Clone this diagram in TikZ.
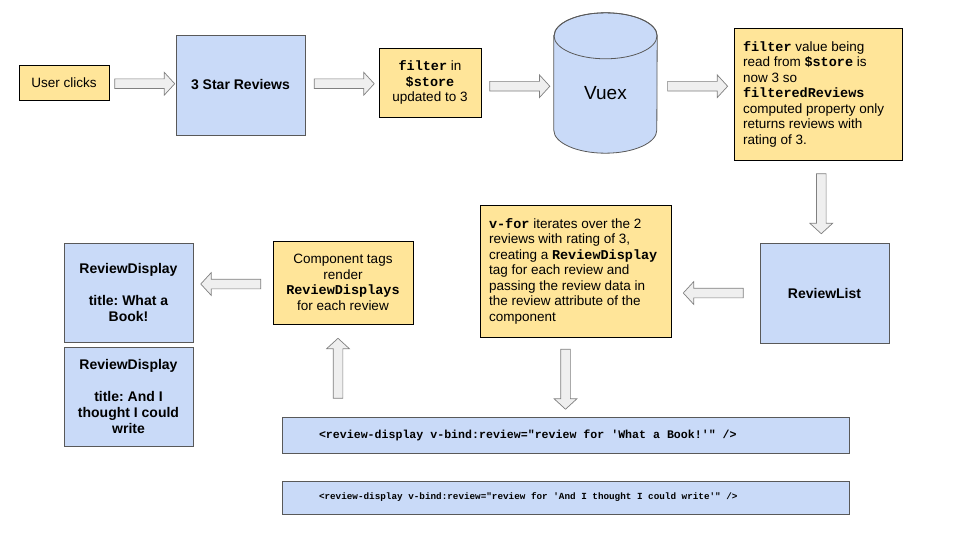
\documentclass[tikz,border=0pt]{standalone}
\usepackage{fontspec}
\setmainfont{Liberation Sans}
\setmonofont{Liberation Mono}
\usetikzlibrary{shapes.arrows}
\definecolor{noteyellow}{HTML}{FFE599}
\definecolor{compblue}{HTML}{C9DAF8}
\definecolor{arrowfill}{HTML}{EFEFEF}
\definecolor{edgegrey}{HTML}{595959}
\definecolor{arrowedge}{HTML}{808080}
\newcommand{\cd}[1]{\textbf{\texttt{#1}}}
\newcommand{\txt}{\fontsize{13.5}{15.5}\selectfont}
\frenchspacing

\tikzset{
	note/.style={draw=black, fill=noteyellow, line width=0.8pt, font=\txt, inner sep=0pt, align=flush center},
	comp/.style={draw=edgegrey, fill=compblue, line width=0.8pt, font=\fontsize{14}{16}\selectfont\bfseries, inner sep=0pt, align=flush center},
	codebox/.style={comp, align=flush left, text width=493pt, inner xsep=37pt},
	blockarrow/.style={single arrow, draw=arrowedge, fill=arrowfill, line width=0.7pt, inner xsep=0pt, inner ysep=4.5pt, minimum height=60pt, single arrow head extend=6.5pt, single arrow tip angle=95}
}

\begin{document}
\begin{tikzpicture}[x=1pt,y=-1pt]
			\useasboundingbox[fill=white] (0,0) rectangle (960,540);
			% top row
			\node[note, minimum width=90pt, minimum height=35pt] (click) at (64,82.5) {User clicks};
			\node[comp, minimum width=129pt, minimum height=100pt] (stars) at (240.5,85) {3 Star Reviews};
			\node[note, minimum width=102pt, minimum height=69pt] (filt) at (430,82.5) {\cd{filter} in\\ \cd{\$store}\\ updated to 3};
			\node[minimum width=103pt, minimum height=140pt, inner sep=0pt] (vuex) at (605.5,83) {};
			\draw[fill=compblue, draw=edgegrey, line width=0.8pt]
				([yshift=-23pt]vuex.north west) -- ([yshift=23pt]vuex.south west)
				arc[start angle=180, end angle=360, x radius=51.5pt, y radius=23pt]
				-- ([yshift=-23pt]vuex.north east)
				arc[start angle=0, end angle=180, x radius=51.5pt, y radius=23pt] -- cycle;
			\draw[draw=edgegrey, line width=0.8pt] ([yshift=-23pt]vuex.north) ellipse[x radius=51.5pt, y radius=23pt];
			\node[font=\fontsize{19}{22}\selectfont] (vuexlabel) at (605.5,93) {Vuex};
			\node[note, align=flush left, text width=150pt, inner xsep=9pt, minimum height=132pt] (fval) at (818,94)
				{\cd{filter} value being\\ read from \cd{\$store} is\\ now 3 so\\ \cd{filteredReviews}\\ computed property only\\ returns reviews with\\ rating of 3.};
			% middle row
			\node[comp, minimum width=129pt, minimum height=100pt] (rlist) at (824.5,293) {ReviewList};
			\node[note, align=flush left, text width=173pt, inner xsep=9pt, minimum height=132pt] (vfor) at (575.5,271)
				{\cd{v-for} iterates over the 2\\ reviews with rating of 3,\\ creating a \cd{ReviewDisplay}\\ tag for each review and\\ passing the review data in\\ the review attribute of the\\ component};
			\node[note, minimum width=140pt, minimum height=83pt] (tags) at (343,282.5)
				{Component tags\\ render\\ \cd{ReviewDisplays}\\ for each review};
			\node[comp, minimum width=129pt, minimum height=99pt] (disp1) at (128.5,292.5)
				{ReviewDisplay\\[15.5pt] title: What a\\ Book!};
			\node[comp, minimum width=129pt, minimum height=99pt] (disp2) at (128.5,396.5)
				{ReviewDisplay\\[15.5pt] title: And I\\ thought I could\\ write};
			% code rows
			\node[codebox, minimum height=36pt, font=\fontsize{11.6}{14}\selectfont] (code1) at (565.5,435)
				{\cd{<review-display v-bind:review="review for 'What a Book!'" />}};
			\node[codebox, minimum height=33pt, font=\fontsize{9.3}{11}\selectfont] (code2) at (565.5,497.5)
				{\cd{<review-display v-bind:review="review for 'And I thought I could write'" />}};
			% block arrows
			\path
			(click.east) -- node[blockarrow] {} (stars.west)
			(stars.east) -- node[blockarrow] {} (filt.west)
			(filt.east) -- node[blockarrow] {} ([yshift=-7pt]vuex.west)
			([yshift=-7pt]vuex.east) -- node[blockarrow] {} (fval.west |- click)
			(fval.south) -- node[blockarrow, rotate=-90] {} (rlist.north)
			(rlist.west) -- node[blockarrow, rotate=180] {} (rlist.west -| vfor.east)
			(vfor.south -| code1.north) -- node[blockarrow, rotate=-90] {} (code1.north)
			([xshift=-5pt]code1.north -| tags.south) -- node[blockarrow, rotate=90] {} ([xshift=-5pt]tags.south)
			([yshift=-1.5pt]tags.west) -- node[blockarrow, rotate=180] {} ([yshift=-1.5pt]tags.west -| disp1.east);
		\end{tikzpicture}
\end{document}
